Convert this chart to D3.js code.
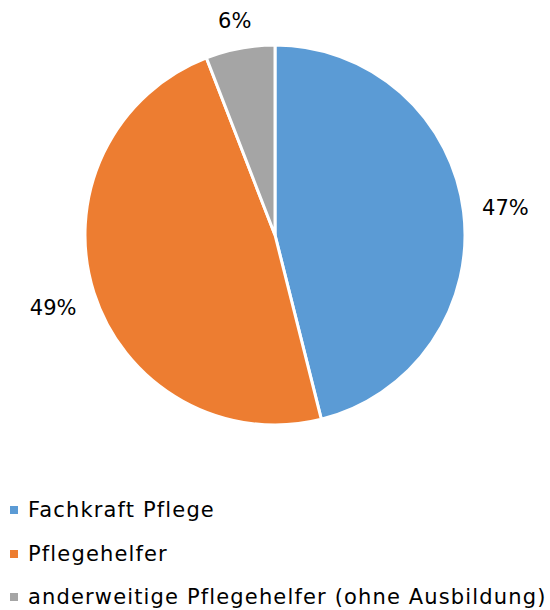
<!DOCTYPE html>
<html>
<head>
<meta charset="utf-8">
<script src="https://cdn.jsdelivr.net/npm/d3@7"></script>
<style>
  html, body { margin: 0; padding: 0; background: #fff; }
  svg { display: block; }
  text { font-family: "DejaVu Sans", sans-serif; fill: #000; }
</style>
</head>
<body>
<svg id="chart" width="550" height="610"></svg>
<script>
const categories = ["Fachkraft Pflege", "Pflegehelfer", "anderweitige Pflegehelfer (ohne Ausbildung)"];
const values = [47, 49, 6];
const percentLabels = ["47%", "49%", "6%"];
const colors = ["#5B9BD5", "#ED7D31", "#A5A5A5"];

const svg = d3.select("#chart");
const cx = 275, cy = 235, r = 190;

const data = categories.map((c, i) => ({ name: c, value: values[i], label: percentLabels[i], color: colors[i] }));

const pie = d3.pie().value(d => d.value).sort(null);
const arc = d3.arc().innerRadius(0).outerRadius(r);
const arcs = pie(data);

const g = svg.append("g").attr("transform", `translate(${cx},${cy})`);
g.selectAll("path.slice").data(arcs).enter().append("path")
  .attr("class", "slice")
  .attr("d", arc)
  .attr("fill", d => d.data.color)
  .attr("stroke", "#fff")
  .attr("stroke-width", 3)
  .attr("stroke-linejoin", "miter");

// data labels, placed outside with a gap
const gap = 18;
const labels = g.selectAll("text.pct").data(arcs).enter().append("text")
  .attr("class", "pct")
  .attr("text-anchor", "middle")
  .attr("dominant-baseline", "central")
  .style("font-size", "21px")
  .text(d => d.data.label);
labels.each(function(d) {
  const bb = this.getBBox();
  const a = (d.startAngle + d.endAngle) / 2;
  const s = Math.sin(a), c = -Math.cos(a);
  const hw = bb.width / 2, hh = 8.5;
  const dist = r + gap + hw * Math.abs(s) + hh * Math.abs(c);
  d3.select(this).attr("x", dist * s).attr("y", dist * c + 2);
});

// legend
const legend = svg.append("g");
const rowY = [510, 554, 597];
const items = legend.selectAll("g.item").data(data).enter().append("g")
  .attr("class", "item")
  .attr("transform", (d, i) => `translate(10,${rowY[i]})`);
items.append("rect")
  .attr("x", 0).attr("y", -4).attr("width", 8).attr("height", 8)
  .attr("fill", d => d.color);
items.append("text")
  .attr("x", 18)
  .attr("dominant-baseline", "central")
  .style("font-size", "21px")
  .style("letter-spacing", "1.15px")
  .text(d => d.name);
</script>
</body>
</html>
